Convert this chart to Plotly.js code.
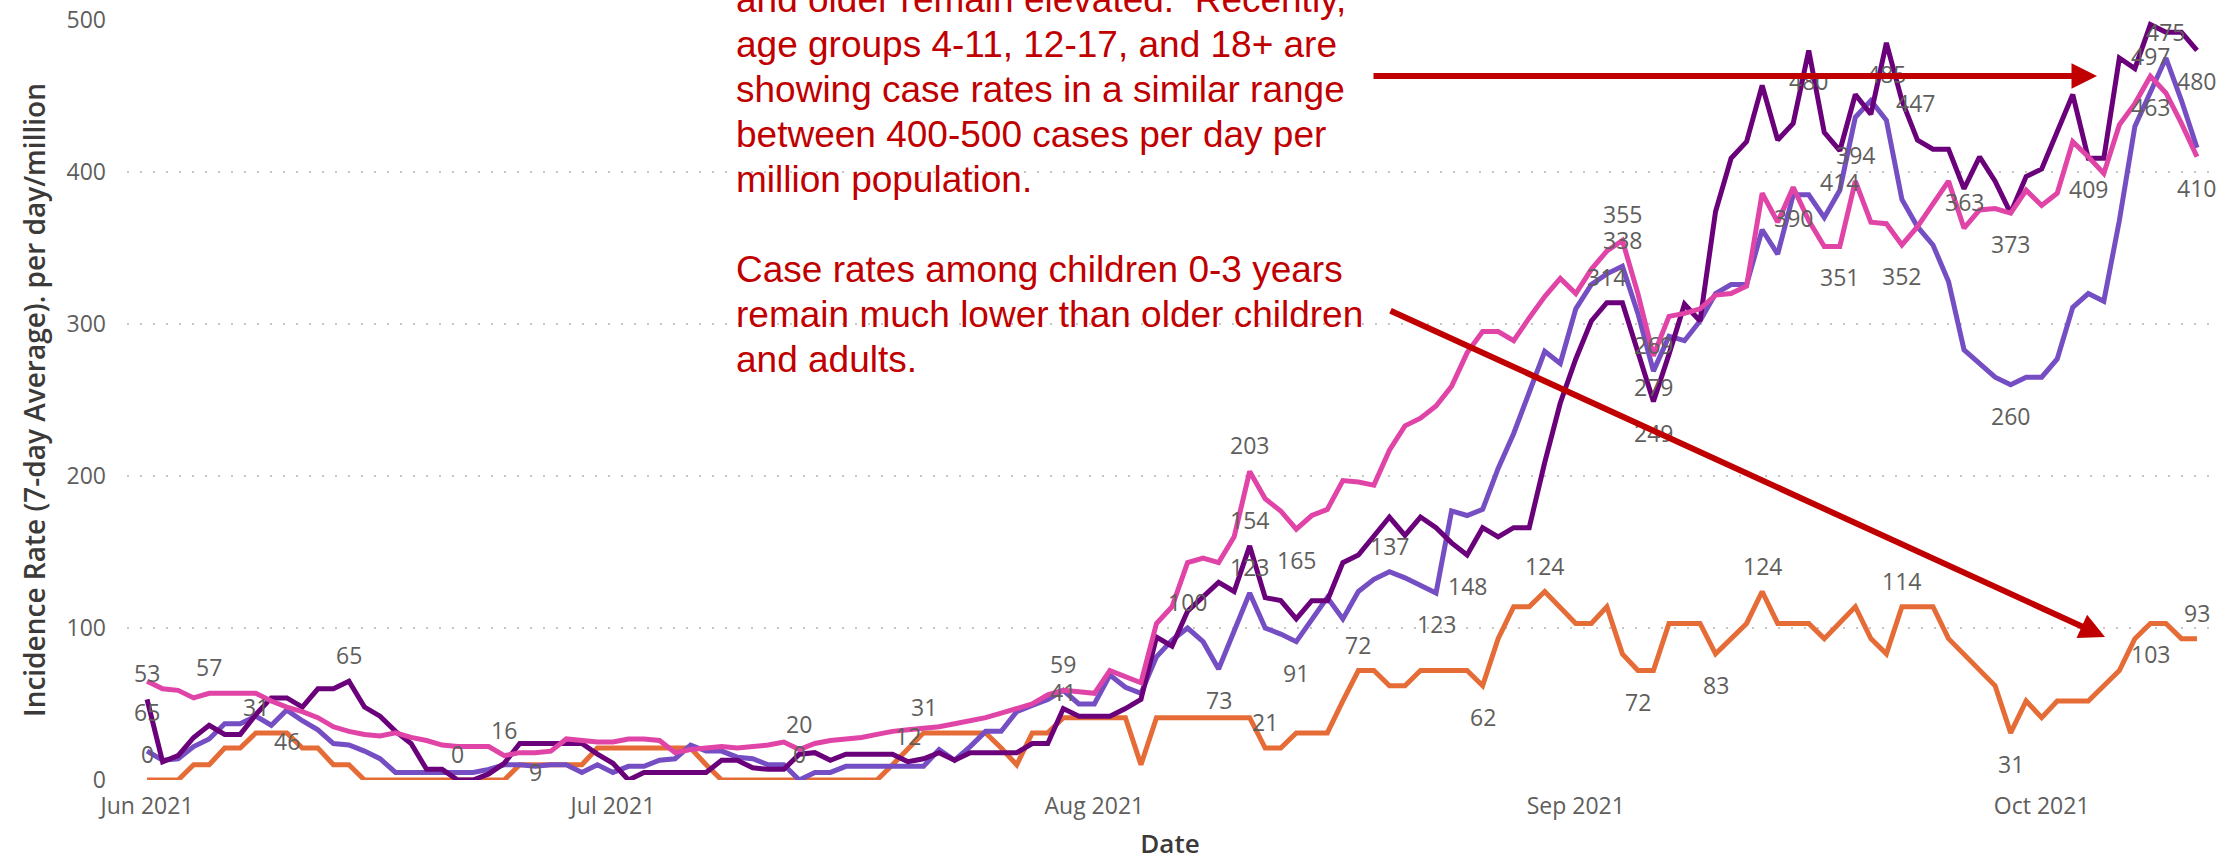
<!DOCTYPE html>
<html>
<head>
<meta charset="utf-8">
<script src="https://cdn.plot.ly/plotly-3.0.1.min.js"></script>
<style>
  html, body { margin: 0; padding: 0; background: #ffffff; }
  #chart { width: 2235px; height: 861px; }
</style>
</head>
<body>
<div id="chart"></div>
<script>
// ---------------- data (daily, 7-day average incidence per million) ----------------
const startDate = '2021-06-01';
const dayCount = 133; // Jun 1 .. Oct 11, 2021

const age0to3 = [
  0,0,0,10,10,21,21,31,31,31,
  21,21,10,10,0,0,0,0,0,0,
  0,0,0,0,10,10,10,10,10,21,
  21,21,21,21,21,21,10,0,0,0,
  0,0,0,0,0,0,0,0,10,21,
  31,31,31,31,31,21,10,31,31,41,
  41,41,41,41,10,41,41,41,41,41,
  41,41,21,21,31,31,31,52,72,72,
  62,62,72,72,72,72,62,93,114,114,
  124,114,103,103,114,83,72,72,103,103,
  103,83,93,103,124,103,103,103,93,103,
  114,93,83,114,114,114,93,83,72,62,
  31,52,41,52,52,52,62,72,93,103,
  103,93,93
];

const age4to11 = [
  19,13,14,22,27,37,37,42,36,46,
  39,33,24,23,19,14,5,5,5,5,
  5,5,7,10,10,9,10,10,5,10,
  5,9,9,13,14,23,19,19,15,14,
  10,10,0,5,5,9,9,9,9,9,
  9,20,13,22,32,32,45,49,53,59,
  50,50,69,61,57,81,92,100,91,73,
  98,123,100,96,91,105,120,106,124,132,
  137,133,128,123,177,174,178,205,228,256,
  282,274,310,326,333,338,307,269,292,289,
  302,320,326,326,362,346,385,385,370,388,
  436,447,434,382,364,352,328,283,274,265,
  260,265,265,277,311,320,315,368,430,452,
  475,447,416
];

const age12to17 = [
  53,12,16,28,36,30,30,43,54,54,
  48,60,60,65,48,42,32,24,7,7,
  0,0,4,11,24,24,24,24,24,17,
  11,0,5,5,5,5,5,13,13,8,
  7,7,17,18,13,17,17,17,17,12,
  14,18,13,18,18,18,18,24,24,47,
  42,42,42,47,53,94,88,111,121,130,
  124,154,120,118,106,118,118,143,148,160,
  173,161,173,166,156,148,166,160,166,166,
  209,248,277,302,314,314,281,249,280,313,
  302,374,409,420,457,421,432,480,426,414,
  451,438,485,447,421,415,415,389,410,394,
  373,397,402,426,451,409,409,475,468,497,
  492,492,480
];

const age18plus = [
  65,60,59,54,57,57,57,57,52,48,
  45,41,35,32,30,29,31,28,26,23,
  22,22,22,16,18,18,19,27,26,25,
  25,27,27,26,18,20,21,22,21,22,
  23,25,20,24,26,27,28,30,32,33,
  34,35,37,39,41,44,47,50,56,59,
  58,57,72,68,64,103,114,143,146,143,
  160,203,185,177,165,174,178,197,196,194,
  217,233,238,246,259,281,295,295,289,304,
  318,330,320,336,348,355,320,279,305,307,
  310,319,320,325,386,367,390,368,351,351,
  394,367,366,352,364,379,394,363,375,376,
  373,388,378,386,420,410,399,431,445,463,
  452,432,410
];

const seriesNames = ['0-3 years', '4-11 years', '12-17 years', '18+ years'];

// which points carry a data label: [series index, day index, side]
const labelPoints = [
  [2,0,'a'],[3,0,'b'],[0,0,'a'],[3,4,'a'],[0,7,'a'],[1,9,'b'],[2,13,'a'],
  [2,20,'a'],[3,23,'a'],[1,25,'low'],
  [3,42,'a'],[1,42,'a'],[2,49,'a'],[0,50,'a'],
  [3,59,'a'],[0,59,'a'],
  [1,67,'a'],[1,69,'b'],[3,71,'a'],[2,71,'a'],[1,71,'a'],[0,72,'a'],[3,74,'b'],[1,74,'b'],[0,78,'a'],
  [1,80,'a'],[1,83,'b'],[2,85,'b'],[0,86,'b'],[0,90,'a'],
  [2,94,'a'],[3,95,'a'],[1,95,'a'],[0,96,'b'],[1,97,'a'],[3,97,'b'],[2,97,'b'],
  [0,101,'b'],[0,104,'a'],[3,106,'b'],[2,107,'b'],[3,109,'b'],[2,109,'b'],[3,110,'a'],
  [2,112,'b'],[3,113,'b'],[0,113,'a'],[2,113,'r'],
  [3,117,'a'],[2,120,'b'],[1,120,'b'],[0,120,'b'],[2,125,'b'],
  [2,129,'b'],[3,129,'b'],[1,130,'a'],[0,129,'b'],[2,132,'b'],[3,132,'b'],[0,132,'a']
];

const noteLines = [
  'and older remain elevated.\u00A0 Recently,',
  'age groups 4-11, 12-17, and 18+ are',
  'showing case rates in a similar range',
  'between 400-500 cases per day per',
  'million population.',
  '',
  'Case rates among children 0-3 years',
  'remain much lower than older children',
  'and adults.'
];

// ---------------- build ----------------
function dayString(i) {
  const p = startDate.split('-').map(Number);
  const d = new Date(Date.UTC(p[0], p[1] - 1, p[2] + i));
  return d.toISOString().slice(0, 10);
}
const dates = [];
for (let i = 0; i < dayCount; i++) dates.push(dayString(i));

const seriesValues = [age0to3, age4to11, age12to17, age18plus];
const seriesColors = ['#E66C37', '#744EC2', '#6B007B', '#E044A7'];
const drawOrder = [0, 1, 2, 3];

const traces = drawOrder.map(k => ({
  type: 'scatter',
  mode: 'lines',
  name: seriesNames[k],
  x: dates,
  y: seriesValues[k],
  line: { color: seriesColors[k], width: 5 },
  hoverinfo: 'skip'
}));

// plot-area geometry (pixels)
const M = { l: 127, r: 22, t: 20, b: 81 };
const W = 2235, H = 861;
const plotW = W - M.l - M.r, plotH = H - M.t - M.b;
const paperX = px => (px - M.l) / plotW;
const paperY = py => (H - M.b - py) / plotH;

const annotations = [];
const labelFont = { family: 'Open Sans, Noto Sans, sans-serif', size: 23, color: '#605E5C' };
labelPoints.forEach(([s, i, side]) => {
  const v = seriesValues[s][i];
  let ys = 26, xs = 0;
  if (side === 'b') ys = -31;
  if (side === 'low') ys = -6;
  if (side === 'r') { ys = -2; xs = 14; }
  annotations.push({
    x: dates[i], y: v, xref: 'x', yref: 'y',
    text: String(v), showarrow: false,
    xanchor: 'center', yanchor: 'middle',
    xshift: xs, yshift: ys,
    font: labelFont
  });
});

// red commentary text
const noteFont = { family: 'Liberation Sans, Arial, sans-serif', size: 37, color: '#C00000' };
noteLines.forEach((t, n) => {
  if (!t) return;
  const baseline = 12 + 45 * n;
  annotations.push({
    xref: 'paper', yref: 'paper',
    x: paperX(734), y: paperY(baseline - 12.8),
    xanchor: 'left', yanchor: 'middle',
    text: t, showarrow: false, font: noteFont
  });
});

// red arrows
const arrowStyle = { showarrow: true, arrowhead: 2, arrowsize: 0.85, arrowwidth: 6, arrowcolor: '#C00000', text: '', standoff: 0 };
annotations.push(Object.assign({ xref: 'paper', yref: 'paper', x: paperX(2097), y: paperY(76), ax: 1372 - 2097, ay: 0 }, arrowStyle));
annotations.push(Object.assign({ xref: 'paper', yref: 'paper', x: paperX(2105), y: paperY(637), ax: 1389 - 2105, ay: 310 - 637 }, arrowStyle));

const layout = {
  width: W, height: H,
  margin: M,
  paper_bgcolor: '#ffffff',
  plot_bgcolor: '#ffffff',
  showlegend: false,
  font: { family: 'Open Sans, Noto Sans, sans-serif', color: '#605E5C' },
  xaxis: {
    type: 'date',
    range: ['2021-05-30T17:00:00', '2021-10-12T00:45:00'],
    tick0: '2021-06-01', dtick: 'M1', tickformat: '%b %Y',
    showgrid: false, zeroline: false, showline: false, ticks: '',
    ticklabelstandoff: 10,
    tickfont: { family: 'Open Sans, Noto Sans, sans-serif', size: 23, color: '#605E5C' },
    title: { text: 'Date', standoff: 14, font: { family: 'Open Sans, Noto Sans, sans-serif', size: 26, color: '#3B3A39', weight: 600 } }
  },
  yaxis: {
    range: [0, 500],
    tickvals: [0, 100, 200, 300, 400, 500],
    showgrid: true, gridcolor: '#C8C6C4', gridwidth: 1.5, griddash: '2px,11px',
    zeroline: false, showline: false, ticks: '',
    ticklabelstandoff: 20,
    tickfont: { family: 'Open Sans, Noto Sans, sans-serif', size: 23, color: '#605E5C' },
    title: { text: 'Incidence Rate (7-day Average). per day/million', standoff: 12, font: { family: 'Open Sans, Noto Sans, sans-serif', size: 28, color: '#3B3A39', weight: 600 } }
  },
  annotations: annotations
};

Plotly.newPlot('chart', traces, layout, { staticPlot: true, displayModeBar: false });
</script>
</body>
</html>
